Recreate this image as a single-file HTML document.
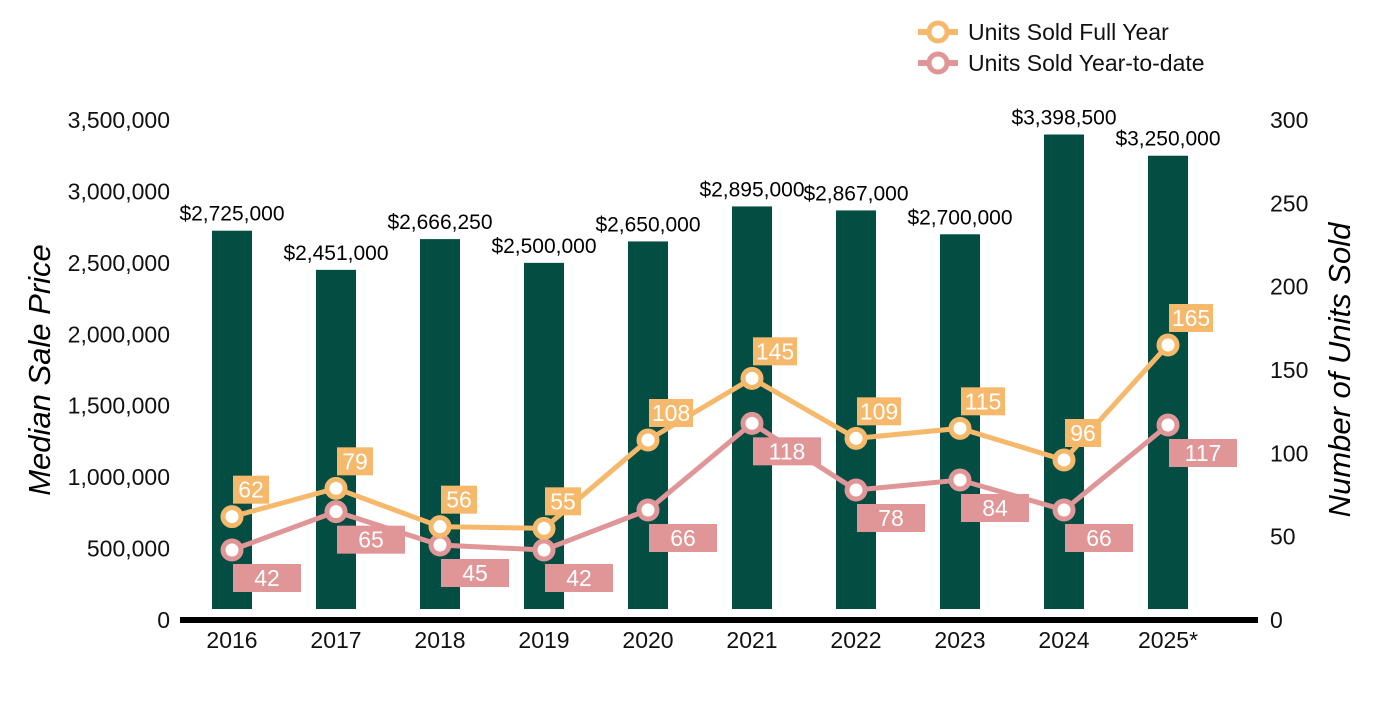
<!DOCTYPE html>
<html><head><meta charset="utf-8"><style>
body{margin:0;background:#fff;}
svg text{font-family:"Liberation Sans",Arial,sans-serif;}
</style></head><body>
<svg id="chart" width="1400" height="700" viewBox="0 0 1400 700">
<g id="legend">
 <g>
  <line x1="918" y1="32" x2="958" y2="32" stroke="#F6B96B" stroke-width="6"/>
  <circle cx="938" cy="32" r="9" fill="#fff" stroke="#F6B96B" stroke-width="5"/>
  <text x="968" y="40" font-size="23" fill="#111">Units Sold Full Year</text>
 </g>
 <g>
  <line x1="918" y1="63" x2="958" y2="63" stroke="#E09597" stroke-width="6"/>
  <circle cx="938" cy="63" r="9" fill="#fff" stroke="#E09597" stroke-width="5"/>
  <text x="968" y="71" font-size="23" fill="#111">Units Sold Year-to-date</text>
 </g>
</g>
<text x="50" y="370" font-size="31" font-style="italic" text-anchor="middle" transform="rotate(-90 50 370)">Median Sale Price</text>
<text x="1350" y="370" font-size="31" font-style="italic" text-anchor="middle" transform="rotate(-90 1350 370)">Number of Units Sold</text>
<g id="g-left"></g>
<g id="g-right"></g>
<g id="g-bars"></g>
<line x1="180" y1="620" x2="1258" y2="620" stroke="#000" stroke-width="6"/>
<g id="g-x"></g>
<g id="g-lines"></g>
</svg>
<script>
const categories=["2016","2017","2018","2019","2020","2021","2022","2023","2024","2025*"];
const prices=[2725000,2451000,2666250,2500000,2650000,2895000,2867000,2700000,3398500,3250000];
const fullYear=[62,79,56,55,108,145,109,115,96,165];
const ytd=[42,65,45,42,66,118,78,84,66,117];
const leftTicks=[0,500000,1000000,1500000,2000000,2500000,3000000,3500000];
const rightTicks=[0,50,100,150,200,250,300];

const NS="http://www.w3.org/2000/svg";
function mk(tag,attrs,parent,txt){const e=document.createElementNS(NS,tag);for(const k in attrs)e.setAttribute(k,attrs[k]);if(txt!==undefined)e.textContent=txt;parent.appendChild(e);return e;}
const y0=620,yTop=120;
const yL=v=>y0-(v/3500000)*(y0-yTop);
const yR=v=>y0-(v/300)*(y0-yTop);
const xC=i=>232+i*104;
const fmt=v=>v.toLocaleString("en-US");

const gL=document.getElementById("g-left"),gR=document.getElementById("g-right"),gB=document.getElementById("g-bars"),gX=document.getElementById("g-x"),gLn=document.getElementById("g-lines");
leftTicks.forEach(t=>{const e=mk("text",{x:170,y:yL(t)+8,"font-size":23,"text-anchor":"end",fill:"#111"},gL,fmt(t));

});
rightTicks.forEach(t=>{const e=mk("text",{x:1270,y:yR(t)+8,"font-size":23,fill:"#111"},gR,String(t));

});
categories.forEach((c,i)=>{
 const top=yL(prices[i]);
 const b=mk("rect",{x:xC(i)-20,y:top,width:40,height:609-top,fill:"#034D43"},gB);
 
 
 const l=mk("text",{x:xC(i),y:top-10,"font-size":21,"text-anchor":"middle",fill:"#000"},gB,"$"+fmt(prices[i]));
 
 
 const t=mk("text",{x:xC(i),y:648,"font-size":23,"text-anchor":"middle",fill:"#111"},gX,c);
 
 
});
function series(vals,color,name,above){
 const pts=vals.map((v,i)=>xC(i)+","+yR(v)).join(" ");
 const pl=mk("polyline",{points:pts,fill:"none",stroke:color,"stroke-width":5},gLn);
 
 
 vals.forEach((v,i)=>{
  const cx=xC(i),cy=yR(v);
  const c=mk("circle",{cx:cx,cy:cy,r:9,fill:"#fff",stroke:color,"stroke-width":5},gLn);
  
  
  const w=above?(String(v).length>2?44:36):68,h=28;
  const bx=cx+1,by=above?cy-41:cy+14;
  const r=mk("rect",{x:bx,y:by,width:w,height:h,fill:color},gLn);
  
  
  const t=mk("text",{x:bx+w/2,y:by+22,"font-size":23,"text-anchor":"middle",fill:"#fff"},gLn,String(v));
  
  
 });
}
series(ytd,"#E09597","ytd",false);
series(fullYear,"#F6B96B","full-year",true);
</script>
</body></html>
